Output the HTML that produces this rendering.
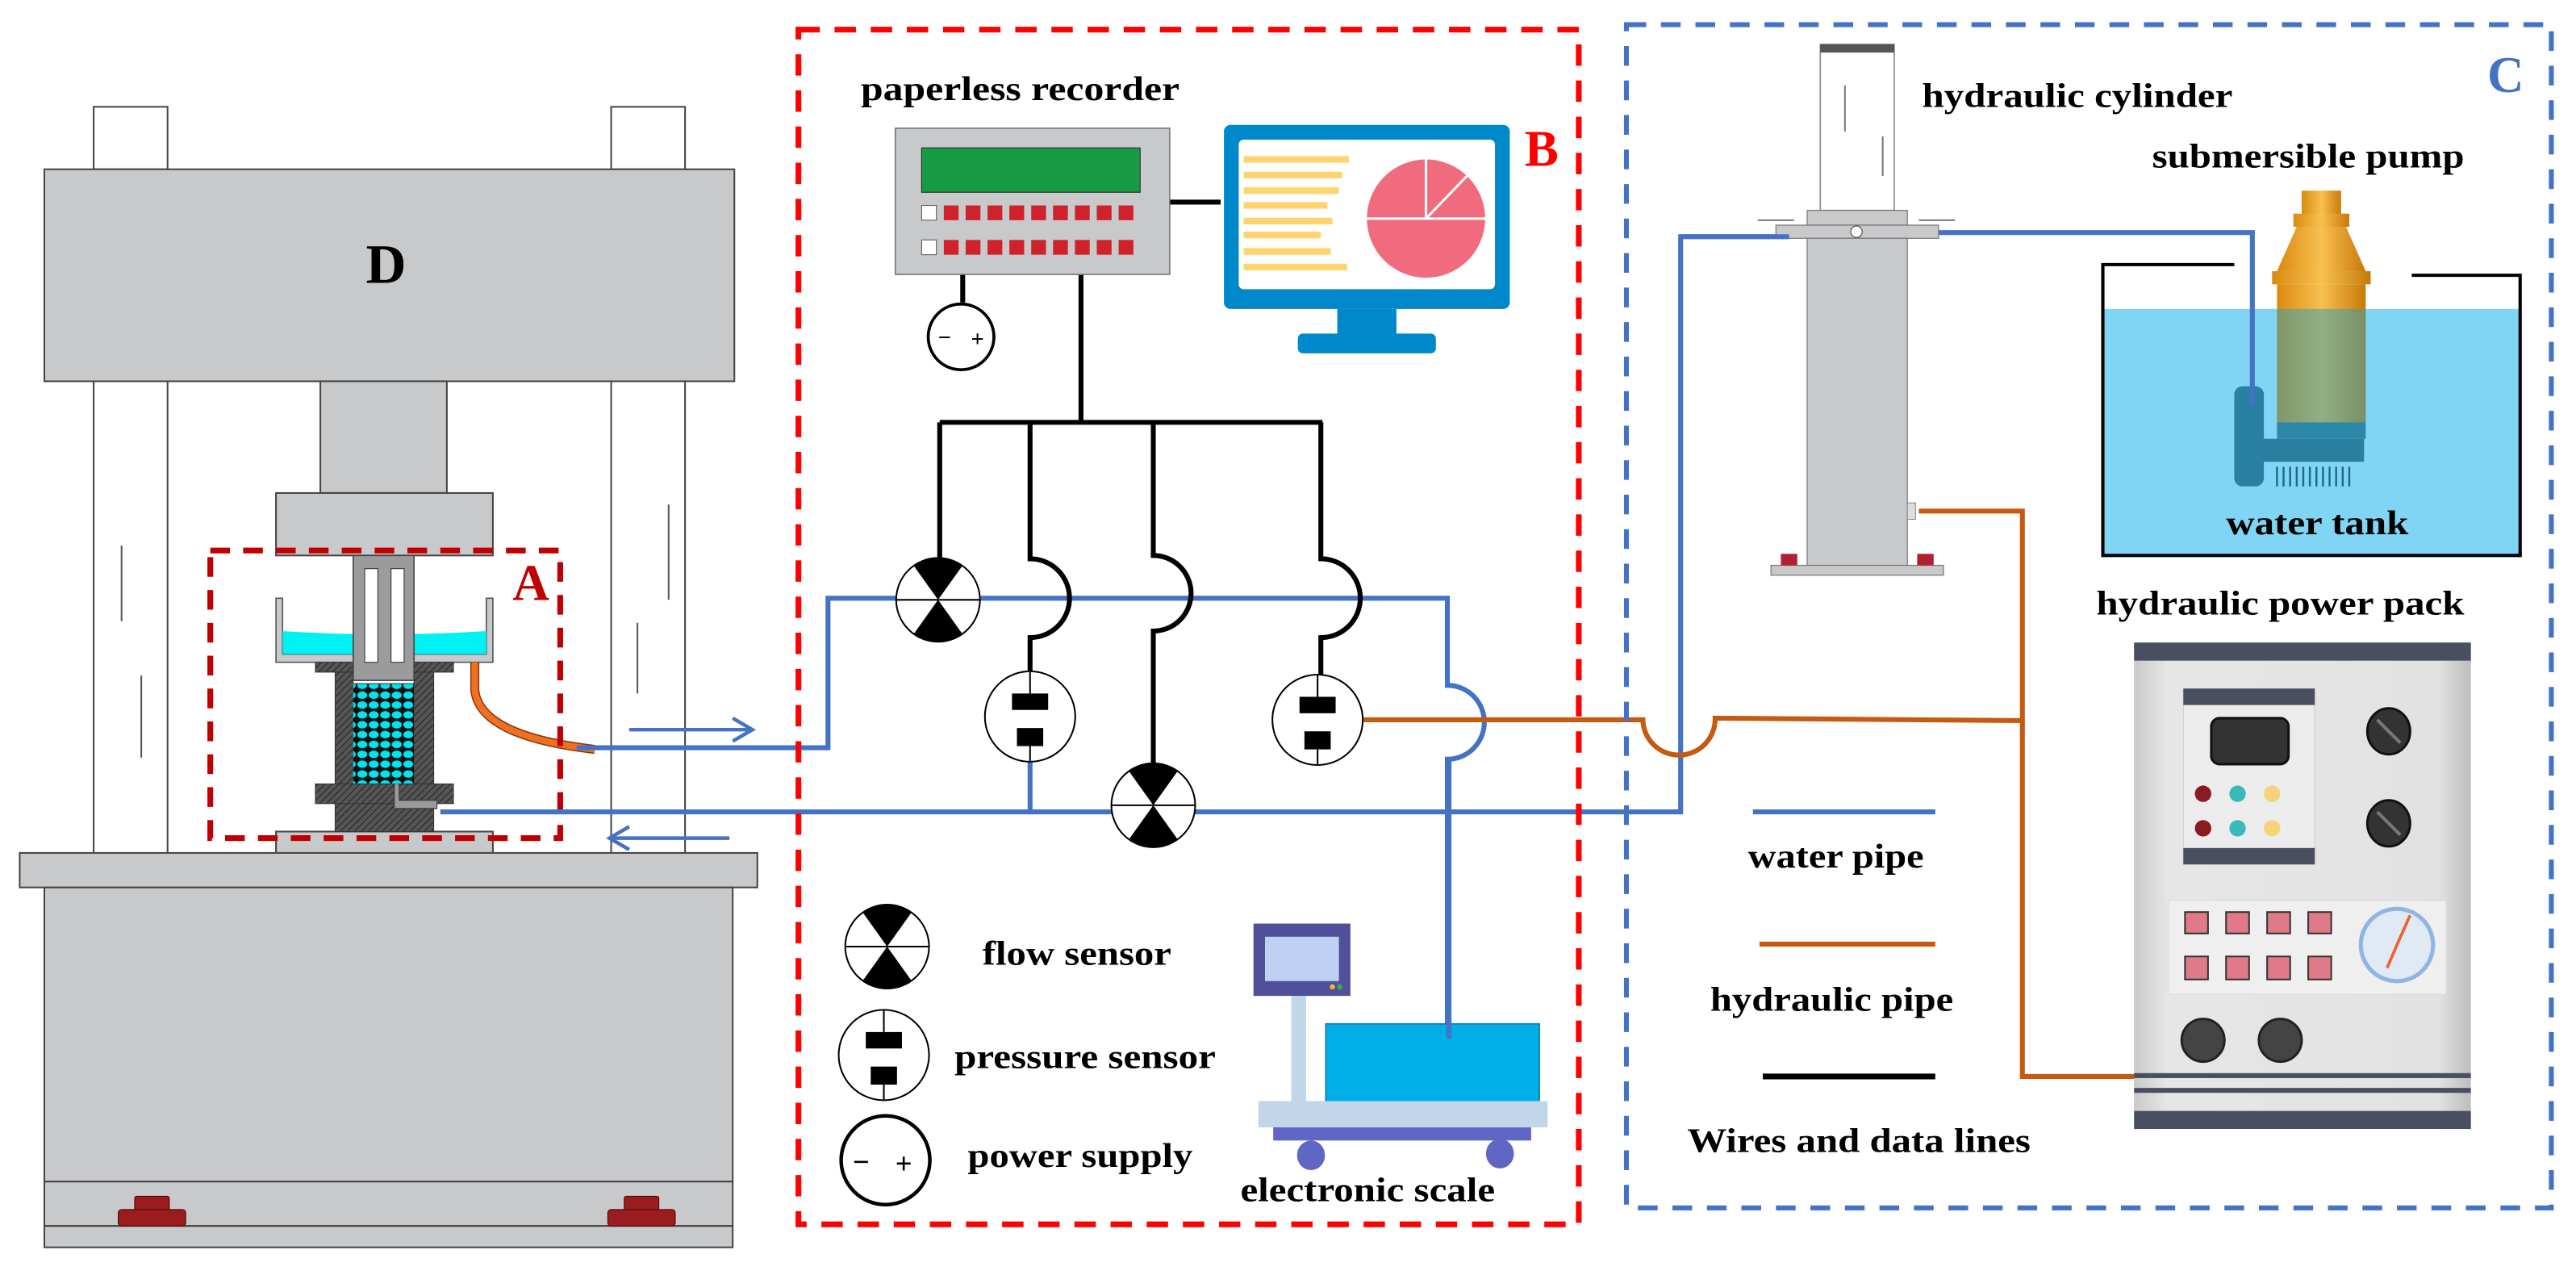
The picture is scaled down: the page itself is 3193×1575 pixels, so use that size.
<!DOCTYPE html>
<html><head><meta charset="utf-8"><style>html,body{margin:0;padding:0;background:#fff}svg{display:block}</style></head>
<body>
<svg width="3193" height="1575" viewBox="0 0 1568 773.4" preserveAspectRatio="none" xmlns="http://www.w3.org/2000/svg" font-family="'Liberation Serif',serif" font-weight="bold">
<defs>
<pattern id="h" width="3" height="3" patternUnits="userSpaceOnUse" patternTransform="rotate(45)"><rect width="3" height="3" fill="#555"/><line x1="0" y1="0" x2="0" y2="3" stroke="#222" stroke-width="1"/></pattern>
<pattern id="peb" width="7" height="6" patternUnits="userSpaceOnUse"><rect width="7" height="6" fill="#111"/><ellipse cx="3.5" cy="3" rx="3" ry="2.3" fill="#00e5ee"/></pattern>
<linearGradient id="og" x1="0" x2="1"><stop offset="0" stop-color="#d98a10"/><stop offset="0.5" stop-color="#f8c050"/><stop offset="1" stop-color="#c77a08"/></linearGradient>
<linearGradient id="pp" x1="0" x2="1"><stop offset="0" stop-color="#c9c9c9"/><stop offset="0.1" stop-color="#e6e6e6"/><stop offset="0.9" stop-color="#e2e2e2"/><stop offset="1" stop-color="#bdbdbd"/></linearGradient>
</defs>
<rect width="1568" height="773.4" fill="#fff"/>

<!-- Machine D -->
<g stroke="#444" stroke-width="1">
<rect x="57" y="65" width="45" height="38" fill="#fff"/>
<rect x="372" y="65" width="45" height="38" fill="#fff"/>
<rect x="57" y="232" width="45" height="288" fill="#fff"/>
<rect x="372" y="232" width="45" height="288" fill="#fff"/>
<rect x="27" y="103" width="420" height="129" fill="#c8c9cb"/>
<rect x="195" y="232" width="77" height="68" fill="#c8c9cb"/>
<rect x="168" y="300" width="132" height="38" fill="#c8c9cb"/>
<rect x="168" y="506" width="132" height="14" fill="#c8c9cb"/>
<rect x="12" y="519" width="449" height="21" fill="#c8c9cb"/>
<rect x="27" y="540" width="419" height="179" fill="#c8c9cb"/>
<rect x="27" y="719" width="419" height="27" fill="#c8c9cb"/>
<rect x="27" y="746" width="419" height="13" fill="#c8c9cb"/>
</g>
<g stroke="#555" stroke-width="1">
<line x1="74" y1="332" x2="74" y2="378"/><line x1="86" y1="411" x2="86" y2="461"/>
<line x1="407" y1="307" x2="407" y2="365"/><line x1="388" y1="379" x2="388" y2="422"/>
</g>
<g fill="#9b1c1f" stroke="#5a0a0a" stroke-width="0.6">
<rect x="82" y="728" width="21" height="10" rx="1"/><rect x="72" y="736" width="41" height="10" rx="2"/>
<rect x="380" y="728" width="21" height="10" rx="1"/><rect x="370" y="736" width="41" height="10" rx="2"/>
</g>
<text x="235" y="172" font-size="34" text-anchor="middle" fill="#000">D</text>

<!-- Cell A -->
<path d="M168 364 V403 H300 V364 H296 V398 H172 V364 Z" fill="#c8c9cb" stroke="#555" stroke-width="0.8"/>
<path d="M172 384 Q234 388 296 384 V398 H172 Z" fill="#00f2f5"/>
<rect x="192" y="403" width="84" height="6" fill="url(#h)" stroke="#333" stroke-width="0.5"/>
<rect x="204" y="409" width="60" height="68" fill="url(#h)" stroke="#333" stroke-width="0.5"/>
<rect x="215" y="416" width="37" height="61" fill="url(#peb)"/>
<rect x="215" y="412" width="37" height="4" fill="#fff" stroke="#333" stroke-width="0.5"/>
<rect x="192" y="477" width="84" height="12" fill="url(#h)" stroke="#333" stroke-width="0.5"/>
<rect x="204" y="489" width="60" height="17" fill="url(#h)" stroke="#333" stroke-width="0.5"/>
<path d="M240 477 V492 H266 V487 H243 V477" fill="#999" stroke="#333" stroke-width="0.5"/>
<rect x="215" y="338" width="37" height="76" fill="#9a9b9d" stroke="#444" stroke-width="0.8"/>
<rect x="222" y="346" width="8" height="57" fill="#fff" stroke="#444" stroke-width="0.6"/>
<rect x="238" y="346" width="8" height="57" fill="#fff" stroke="#444" stroke-width="0.6"/>
<path d="M289 403 V420 Q292 448 362 456" fill="none" stroke="#8a3a10" stroke-width="5.5"/>
<path d="M289 403 V420 Q292 448 362 456" fill="none" stroke="#f07020" stroke-width="4"/>
<rect x="128" y="335" width="213" height="175" fill="none" stroke="#c00000" stroke-width="3.5" stroke-dasharray="12 8"/>
<text x="312" y="365" font-size="31" fill="#c00000">A</text>

<!-- Arrows -->
<g stroke="#4472c4" stroke-width="2.2" fill="none">
<line x1="383" y1="444" x2="457" y2="444"/><path d="M446 437 L458 444 L446 451"/>
<line x1="372" y1="510" x2="444" y2="510"/><path d="M383 503 L371 510 L383 517"/>
</g>

<!-- Pipes -->
<g fill="none" stroke-width="3">
<path d="M351 455 H504 V364 H546" stroke="#4472c4"/>
<path d="M597 364 H881 V417 A22.5 22.5 0 0 1 881 462 V632" stroke="#4472c4"/>
<path d="M268 494 H677" stroke="#4472c4"/>
<path d="M727 494 H1023 V144 H1089" stroke="#4472c4"/>
<path d="M627 463 V494" stroke="#4472c4"/>
<path d="M1168 141.5 H1371 V246" stroke="#4472c4"/>
<path d="M830 438 H1000 A22 22 0 0 0 1044 437 L1231 438.5" stroke="#c55a11"/>
<path d="M1168 311 H1231 V655 H1300" stroke="#c55a11"/>
</g>

<!-- Wires -->
<g fill="none" stroke="#000" stroke-width="3">
<path d="M658 165 V257"/>
<path d="M572 257 H805"/>
<path d="M572 257 V340"/>
<path d="M627 257 V340 A24 24 0 0 1 627 388 V409"/>
<path d="M702 257 V338 A23 23 0 0 1 702 384 L702 468"/>
<path d="M804 257 V340 A24 24 0 0 1 804 388 V411"/>
<path d="M705 123 H743"/>
<path d="M586 167 V184"/>
</g>

<!-- Flow sensor symbol -->
<g id="fs">
<circle cx="571" cy="365" r="25.5" fill="#fff" stroke="#000" stroke-width="1"/>
<path d="M571 365 L556 344 A25.5 25.5 0 0 1 586 344 Z M571 365 L556 386 A25.5 25.5 0 0 0 586 386 Z" fill="#000"/>
<line x1="545.5" y1="365" x2="596.5" y2="365" stroke="#000" stroke-width="1"/>
</g>
<use href="#fs" transform="translate(131,125)"/>
<use href="#fs" transform="translate(-31,211)"/>

<!-- pressure sensors -->
<g id="ps">
<circle cx="627" cy="436" r="27.5" fill="#fff" stroke="#000" stroke-width="1"/>
<rect x="616" y="422" width="22" height="10" fill="#000"/>
<rect x="619" y="443" width="16" height="11" fill="#000"/>
<line x1="627" y1="409" x2="627" y2="422" stroke="#000" stroke-width="1"/>
<line x1="627" y1="454" x2="627" y2="463" stroke="#000" stroke-width="1"/>
</g>
<use href="#ps" transform="translate(175,2)"/>
<use href="#ps" transform="translate(-89,206)"/>

<!-- power supply -->
<circle cx="585" cy="205" r="20" fill="#fff" stroke="#000" stroke-width="1.8"/>
<text x="571" y="210" font-size="14" fill="#000">−</text><text x="591" y="211" font-size="14" fill="#000">+</text>
<circle cx="539" cy="706" r="27" fill="#fff" stroke="#000" stroke-width="2.2"/>
<text x="519" y="713" font-size="18" fill="#000">−</text><text x="545" y="714" font-size="18" fill="#000">+</text>

<!-- Recorder -->
<rect x="545" y="78" width="167" height="89" fill="#c8c9cb" stroke="#777" stroke-width="0.8"/>
<rect x="561" y="90" width="133" height="27" fill="#179b45" stroke="#333" stroke-width="0.6"/>
<g stroke="#555" stroke-width="0.5">
<rect x="561" y="125" width="9" height="9" fill="#fff"/><rect x="561" y="146" width="9" height="9" fill="#fff"/>
</g>
<g fill="#d0222a">
<rect x="574.5" y="125" width="9" height="9"/><rect x="587.8" y="125" width="9" height="9"/><rect x="601.1" y="125" width="9" height="9"/><rect x="614.4" y="125" width="9" height="9"/><rect x="627.7" y="125" width="9" height="9"/><rect x="641" y="125" width="9" height="9"/><rect x="654.3" y="125" width="9" height="9"/><rect x="667.6" y="125" width="9" height="9"/><rect x="680.9" y="125" width="9" height="9"/>
<rect x="574.5" y="146" width="9" height="9"/><rect x="587.8" y="146" width="9" height="9"/><rect x="601.1" y="146" width="9" height="9"/><rect x="614.4" y="146" width="9" height="9"/><rect x="627.7" y="146" width="9" height="9"/><rect x="641" y="146" width="9" height="9"/><rect x="654.3" y="146" width="9" height="9"/><rect x="667.6" y="146" width="9" height="9"/><rect x="680.9" y="146" width="9" height="9"/>
</g>

<!-- Monitor -->
<rect x="745" y="76" width="174" height="112" rx="4" fill="#0088cc"/>
<rect x="754" y="85" width="156" height="91" rx="3" fill="#fff"/>
<rect x="814" y="188" width="36" height="16" fill="#0088cc"/>
<rect x="790" y="203" width="84" height="12" rx="3" fill="#0088cc"/>
<g fill="#ffd36e">
<rect x="757" y="95" width="64" height="4"/><rect x="757" y="104.5" width="60" height="4"/><rect x="757" y="114" width="58" height="4"/><rect x="757" y="123" width="51" height="4"/><rect x="757" y="132.5" width="54" height="4"/><rect x="757" y="141" width="47" height="4"/><rect x="757" y="151" width="53" height="4"/><rect x="757" y="160.5" width="63" height="4"/>
</g>
<circle cx="868" cy="133" r="36" fill="#f06b7e"/>
<g stroke="#fff" stroke-width="1.5"><line x1="832" y1="133" x2="904" y2="133"/><line x1="868" y1="133" x2="868" y2="97"/><line x1="868" y1="133" x2="893" y2="107"/></g>

<!-- Scale -->
<rect x="786" y="606" width="9" height="64" fill="#c2d6ea"/>
<rect x="763" y="562" width="59" height="44" fill="#4f509a"/>
<rect x="770" y="570" width="45" height="27" fill="#bfd0f2"/>
<circle cx="811" cy="600.5" r="1.6" fill="#f5b335"/><circle cx="815.5" cy="600.5" r="1.6" fill="#35b04a"/>
<rect x="807" y="623" width="130" height="49" fill="#00aee8" stroke="#0a7aa0" stroke-width="0.8"/>
<rect x="766" y="670" width="176" height="16" fill="#c2d6ea"/>
<rect x="775" y="686" width="157" height="8" fill="#6066c4"/>
<ellipse cx="798" cy="703" rx="8.5" ry="9" fill="#6066c4"/><ellipse cx="913" cy="702" rx="8.5" ry="9" fill="#6066c4"/>
<line x1="882" y1="462" x2="882" y2="632" stroke="#4472c4" stroke-width="3"/>

<!-- B box -->
<rect x="486" y="18" width="475" height="727" fill="none" stroke="#ff0000" stroke-width="3.5" stroke-dasharray="13 9"/>
<text x="928" y="101" font-size="31" fill="#ff0000">B</text>

<!-- C box -->
<rect x="990" y="15" width="563" height="720" fill="none" stroke="#4472c4" stroke-width="3" stroke-dasharray="12 9"/>
<text x="1514" y="56" font-size="31" fill="#4472c4">C</text>

<!-- Hydraulic cylinder -->
<rect x="1108" y="27" width="45" height="101" fill="#fff" stroke="#888" stroke-width="0.8"/>
<rect x="1108" y="27" width="45" height="5" fill="#555"/>
<line x1="1123" y1="52" x2="1123" y2="80" stroke="#777"/><line x1="1146" y1="83" x2="1146" y2="107" stroke="#777"/>
<rect x="1100" y="128" width="61" height="9" fill="#c8c9cb" stroke="#777" stroke-width="0.6"/>
<rect x="1081" y="137" width="99" height="8" fill="#c8c9cb" stroke="#777" stroke-width="0.6"/>
<path d="M1070 134 H1092 M1168 134 H1190" stroke="#777" stroke-width="1"/>
<circle cx="1130" cy="141" r="3.5" fill="#fff" stroke="#555" stroke-width="0.6"/>
<rect x="1100" y="145" width="61" height="199" fill="#c8c9cb" stroke="#777" stroke-width="0.6"/>
<rect x="1078" y="344" width="105" height="6" fill="#c8c9cb" stroke="#777" stroke-width="0.6"/>
<rect x="1084" y="337" width="10" height="7" fill="#b02030"/><rect x="1167" y="337" width="10" height="7" fill="#b02030"/>
<rect x="1161" y="306" width="5" height="10" fill="#ddd" stroke="#888" stroke-width="0.5"/>
<line x1="1023" y1="144" x2="1089" y2="144" stroke="#4472c4" stroke-width="3"/>

<!-- Tank + pump -->
<rect x="1280" y="188" width="254" height="150" fill="#80d5f5"/>
<path d="M1360 161 H1280 V338 H1534 V167.5 H1468" fill="none" stroke="#000" stroke-width="2"/>
<rect x="1401" y="116" width="24" height="20" fill="url(#og)"/>
<rect x="1396" y="130" width="34" height="8" fill="url(#og)"/>
<path d="M1398 138 H1428 L1440 165 H1386 Z" fill="url(#og)"/>
<rect x="1383" y="165" width="60" height="8" fill="url(#og)"/>
<rect x="1386" y="173" width="54" height="84" fill="url(#og)"/>
<rect x="1386" y="188" width="54" height="69" fill="#3aa0b0" opacity="0.55"/>
<rect x="1386" y="257" width="54" height="10" fill="#2d88a8"/>
<rect x="1373" y="267" width="66" height="14" fill="#2a7fa0"/>
<rect x="1360" y="235" width="18" height="61" rx="5" fill="#2a80a3"/>
<g stroke="#1d6a8a" stroke-width="1.2"><line x1="1386" y1="284" x2="1386" y2="296"/><line x1="1390" y1="284" x2="1390" y2="296"/><line x1="1394" y1="284" x2="1394" y2="296"/><line x1="1398" y1="284" x2="1398" y2="296"/><line x1="1402" y1="284" x2="1402" y2="296"/><line x1="1406" y1="284" x2="1406" y2="296"/><line x1="1410" y1="284" x2="1410" y2="296"/><line x1="1414" y1="284" x2="1414" y2="296"/><line x1="1418" y1="284" x2="1418" y2="296"/><line x1="1422" y1="284" x2="1422" y2="296"/><line x1="1426" y1="284" x2="1426" y2="296"/><line x1="1430" y1="284" x2="1430" y2="296"/></g>
<line x1="1371" y1="188" x2="1371" y2="246" stroke="#4472c4" stroke-width="3"/>

<!-- Power pack -->
<rect x="1299" y="391" width="205" height="296" fill="url(#pp)"/>
<rect x="1299" y="391" width="205" height="11" fill="#4a4f60"/>
<rect x="1329" y="419" width="80" height="107" fill="#ececec" stroke="#ccc" stroke-width="0.5"/>
<rect x="1329" y="419" width="80" height="10" fill="#4a4f60"/>
<rect x="1329" y="516" width="80" height="10" fill="#4a4f60"/>
<rect x="1346" y="437" width="47" height="28" rx="5" fill="#333" stroke="#111" stroke-width="1.5"/>
<circle cx="1341" cy="483" r="5" fill="#8b1a22"/><circle cx="1362" cy="483" r="5" fill="#3ab9bb"/><circle cx="1383" cy="483" r="5" fill="#f6d27a"/>
<circle cx="1341" cy="504" r="5" fill="#8b1a22"/><circle cx="1362" cy="504" r="5" fill="#3ab9bb"/><circle cx="1383" cy="504" r="5" fill="#f6d27a"/>
<ellipse cx="1454" cy="445" rx="13" ry="14" fill="#333" stroke="#111" stroke-width="1.5"/><line x1="1447" y1="438" x2="1461" y2="452" stroke="#777" stroke-width="2"/>
<ellipse cx="1454" cy="501" rx="13" ry="14" fill="#333" stroke="#111" stroke-width="1.5"/><line x1="1447" y1="494" x2="1461" y2="508" stroke="#777" stroke-width="2"/>
<rect x="1320" y="548" width="169" height="57" fill="#efefef" stroke="#ddd" stroke-width="0.6"/>
<g fill="#e07a88" stroke="#333" stroke-width="1">
<rect x="1330" y="555" width="14" height="13"/><rect x="1355" y="555" width="14" height="13"/><rect x="1380" y="555" width="14" height="13"/><rect x="1405" y="555" width="14" height="13"/>
<rect x="1330" y="582" width="14" height="14"/><rect x="1355" y="582" width="14" height="14"/><rect x="1380" y="582" width="14" height="14"/><rect x="1405" y="582" width="14" height="14"/>
</g>
<circle cx="1459" cy="575" r="22" fill="#dfeaf5" stroke="#8fb5e0" stroke-width="2.5"/>
<line x1="1459" y1="575" x2="1467" y2="557" stroke="#f06030" stroke-width="1.8"/><line x1="1459" y1="575" x2="1453" y2="589" stroke="#f06030" stroke-width="1.8"/>
<circle cx="1341" cy="633" r="13" fill="#444" stroke="#222" stroke-width="1.5"/><circle cx="1388" cy="633" r="13" fill="#444" stroke="#222" stroke-width="1.5"/>
<rect x="1299" y="653" width="205" height="3" fill="#4a4f60"/>
<rect x="1299" y="662" width="205" height="3" fill="#4a4f60"/>
<rect x="1299" y="676" width="205" height="11" fill="#4a4f60"/>

<!-- Legend lines -->
<line x1="1067" y1="494" x2="1178" y2="494" stroke="#4472c4" stroke-width="3"/>
<line x1="1071" y1="574.5" x2="1178" y2="574.5" stroke="#c55a11" stroke-width="3"/>
<line x1="1073" y1="655" x2="1178" y2="655" stroke="#000" stroke-width="3.5"/>

<!-- Labels -->
<g fill="#000" font-size="21" lengthAdjust="spacingAndGlyphs">
<text x="524" y="61" textLength="194" lengthAdjust="spacingAndGlyphs">paperless recorder</text>
<text x="598" y="587" textLength="115" lengthAdjust="spacingAndGlyphs">flow sensor</text>
<text x="581" y="650" textLength="159" lengthAdjust="spacingAndGlyphs">pressure sensor</text>
<text x="589" y="710" textLength="137" lengthAdjust="spacingAndGlyphs">power supply</text>
<text x="755" y="731" textLength="155" lengthAdjust="spacingAndGlyphs">electronic scale</text>
<text x="1170" y="65" textLength="189" lengthAdjust="spacingAndGlyphs">hydraulic cylinder</text>
<text x="1310" y="102" textLength="190" lengthAdjust="spacingAndGlyphs">submersible pump</text>
<text x="1355" y="325" textLength="111" lengthAdjust="spacingAndGlyphs">water tank</text>
<text x="1276" y="374" textLength="224" lengthAdjust="spacingAndGlyphs">hydraulic power pack</text>
<text x="1064" y="528" textLength="107" lengthAdjust="spacingAndGlyphs">water pipe</text>
<text x="1041" y="615" textLength="148" lengthAdjust="spacingAndGlyphs">hydraulic pipe</text>
<text x="1027" y="701" textLength="209" lengthAdjust="spacingAndGlyphs">Wires and data lines</text>
</g>
</svg>
</body></html>
